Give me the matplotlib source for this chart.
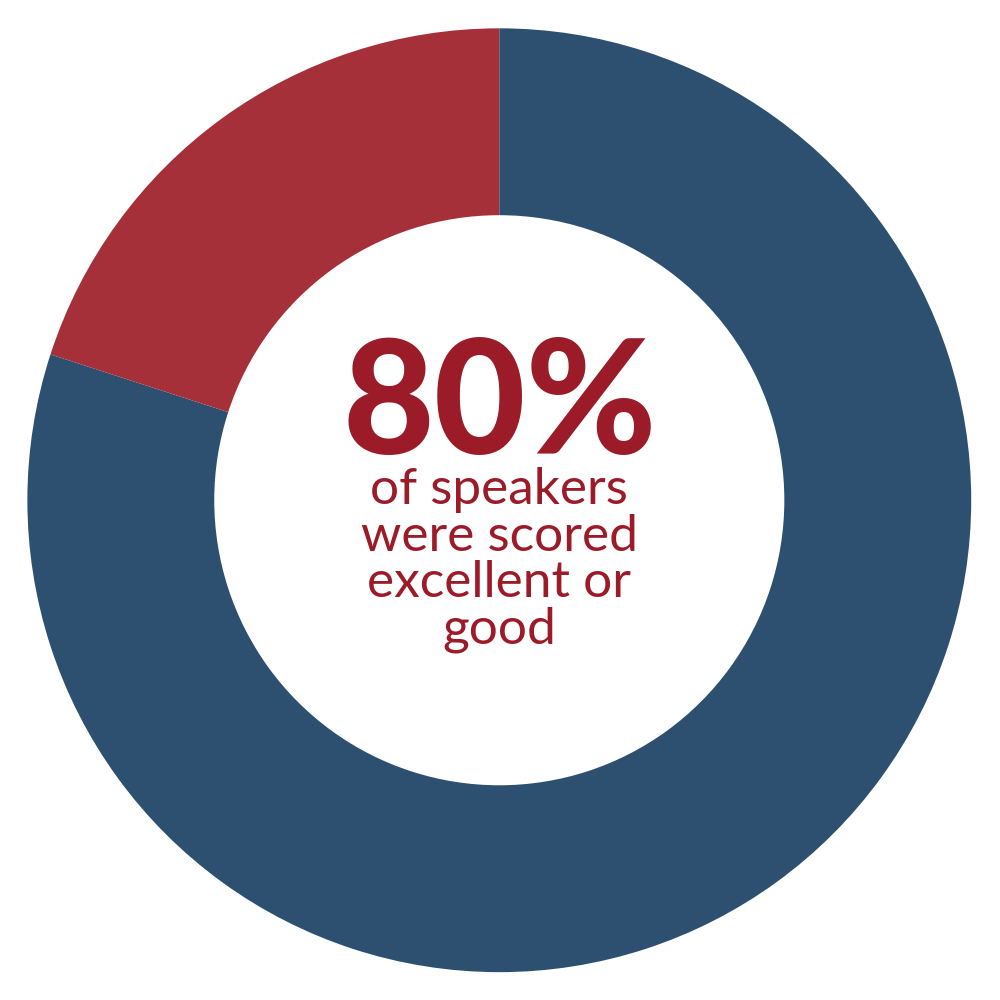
import matplotlib.pyplot as plt

# donut data
labels = ['Excellent or good', 'Other']
shares = [80, 20]
colors = ['#2D5070', '#A5303A']

headline = '80%'
caption = ['of speakers', 'were scored', 'excellent or', 'good']

fig = plt.figure(figsize=(10, 10), dpi=100)
ax = fig.add_axes([0, 0, 1, 1])

ax.pie(shares, colors=colors, startangle=90, counterclock=False,
       radius=1.0, wedgeprops=dict(width=0.396, edgecolor='none'))

ax.set_xlim(-1.058, 1.061)
ax.set_ylim(-1.059, 1.060)
ax.set_aspect('equal')
ax.axis('off')

text_color = '#9B1B28'
ax.text(0.0, 0.097, headline, ha='center', va='baseline', fontsize=114,
        fontweight='black', family='Lato', color=text_color)
for i, line in enumerate(caption):
    ax.text(0.0, 0.022 - i * 0.099, line, ha='center', va='center',
            fontsize=37, family='Lato', color=text_color)

fig.savefig('out.png', dpi=100, facecolor='white')
